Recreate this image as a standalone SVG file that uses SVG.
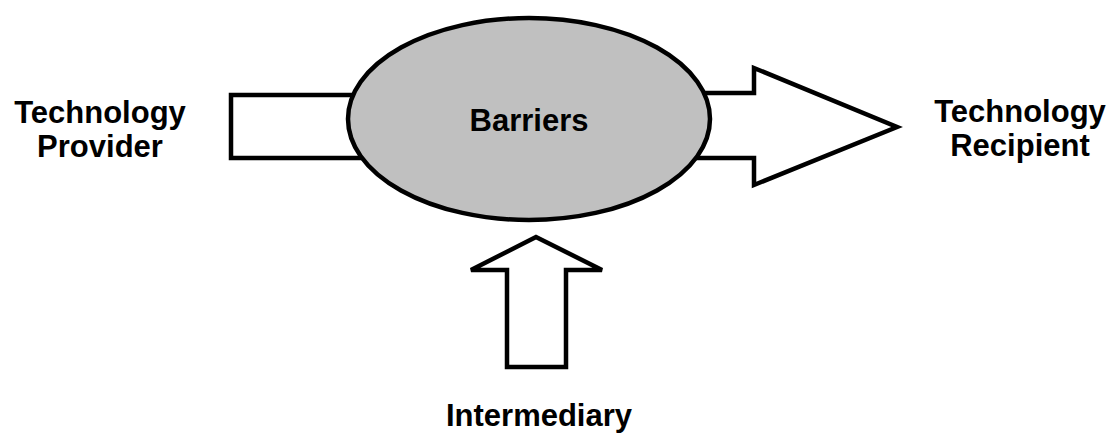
<svg xmlns="http://www.w3.org/2000/svg" width="1114" height="436" viewBox="0 0 1114 436">
<style>
.shape{fill:#fff;stroke:#000;stroke-width:4.5;stroke-linejoin:miter}
.oval{fill:#c0c0c0;stroke:#000;stroke-width:4.5}
.lbl{font-family:"Liberation Sans",Arial,sans-serif;font-weight:bold;font-size:31px;fill:#000;text-anchor:middle}
</style>
<rect width="1114" height="436" fill="#fff"/>
<g id="connectors">
<path id="arrow-provider" class="shape" d="M231,95 H400 V158 H231 Z"/>
<path id="arrow-recipient" class="shape" d="M660,93 H754 V68 L897,127 L754,185 V158 H660 Z"/>
<path id="arrow-intermediary" class="shape" d="M507,367 V270 H471 L536,237 L602,270 H566 V367 Z"/>
</g>
<g id="barriers">
<ellipse class="oval" cx="529" cy="119" rx="181" ry="101"/>
<text class="lbl" x="529" y="131">Barriers</text>
</g>
<g id="provider">
<text class="lbl" x="100" y="123">Technology</text>
<text class="lbl" x="100" y="157">Provider</text>
</g>
<g id="recipient">
<text class="lbl" x="1020" y="122">Technology</text>
<text class="lbl" x="1020" y="156">Recipient</text>
</g>
<g id="intermediary">
<text class="lbl" x="539" y="426">Intermediary</text>
</g>
</svg>
